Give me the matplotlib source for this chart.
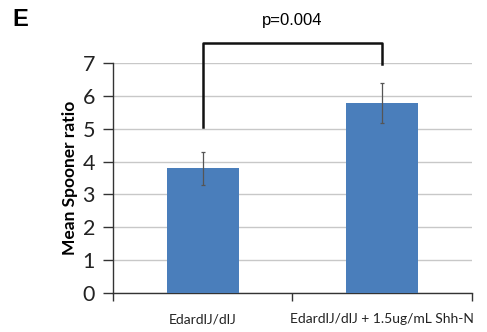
import matplotlib.pyplot as plt
import numpy as np

plt.rcParams["font.family"] = ["Lato", "DejaVu Sans"]

# data
groups = ["EdardlJ/dlJ", "EdardlJ/dlJ + 1.5ug/mL Shh-N"]
means = [3.8, 5.78]
errors = [0.5, 0.6]
p_text = "p=0.004"
bracket_top = 7.6
bracket_legs = [5.05, 6.96]

fig = plt.figure(figsize=(4.87, 3.32), dpi=100)
ax = fig.add_axes([0.232, 0.1175, 0.737, 0.6925])

x = np.arange(len(groups))
ax.bar(x, means, width=0.4, color="#4a7ebb", zorder=3)
ax.errorbar(x, means, yerr=errors, fmt="none", ecolor="#555555",
            elinewidth=0.9, capsize=1.5, capthick=0.9, zorder=4)

ax.set_xlim(-0.5, 1.5)
ax.set_ylim(0, 7)
ax.set_yticks(range(0, 8))
ax.yaxis.grid(True, color="#c8c8c8", linewidth=1, zorder=0)
ax.set_axisbelow(True)

# category boundary ticks on x axis
ax.set_xticks([-0.5, 0.5, 1.5])
ax.set_xticklabels([])
ax.tick_params(axis="x", direction="out", length=6, width=1, color="#333333")
ax.tick_params(axis="y", direction="out", length=7, width=1, color="#333333",
               labelsize=15.5, pad=6, labelcolor="#222222")
for i, g in enumerate(groups):
    ax.text(i, -0.8, g, ha="center", va="center", fontsize=10, color="#222222")

for s in ["top", "right"]:
    ax.spines[s].set_visible(False)
for s in ["left", "bottom"]:
    ax.spines[s].set_color("#333333")
    ax.spines[s].set_linewidth(1)

ax.set_ylabel("Mean Spooner ratio", fontsize=12.5, fontweight="bold", labelpad=3)

# significance bracket
ax.plot([0, 0, 1, 1], [bracket_legs[0], bracket_top, bracket_top, bracket_legs[1]],
        color="#111111", linewidth=1.8, clip_on=False, zorder=5)
ax.text(0.5, bracket_top + 0.7, p_text, ha="center", va="center", fontsize=12,
        family="Liberation Sans")

fig.text(0.025, 0.94, "E", fontsize=17, fontweight="bold", family="Liberation Sans",
         va="center", ha="left")

fig.savefig("out.png", dpi=100)
